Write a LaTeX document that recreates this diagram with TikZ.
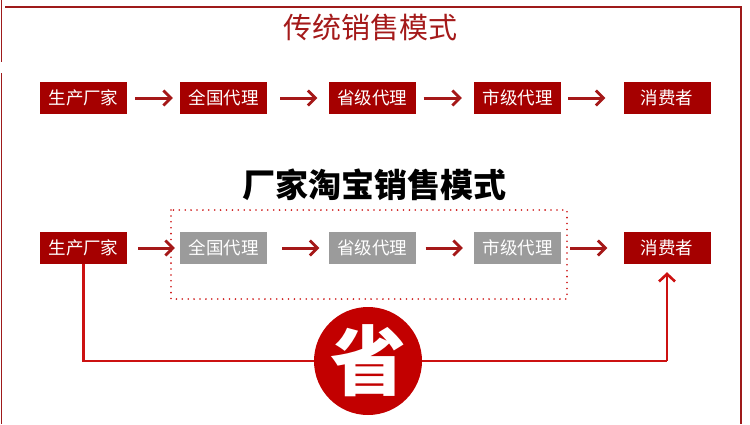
\documentclass[tikz,border=0pt]{standalone}
\usepackage{fontspec}
\setmainfont{Noto Sans CJK SC}
\usetikzlibrary{arrows.meta}
\definecolor{boxred}{HTML}{A50000}
\definecolor{boxgray}{HTML}{9B9B9B}
\definecolor{titlered}{HTML}{A41A1A}
\definecolor{arrred}{HTML}{A51818}
\definecolor{linered}{HTML}{CC1111}
\definecolor{circred}{HTML}{C20000}
\definecolor{framered}{HTML}{9E1A1A}
\tikzset{
  redbox/.style={fill=boxred, text=white, minimum width=87pt, minimum height=32pt, inner sep=0pt, font=\fontsize{17.5}{19}\selectfont},
  graybox/.style={redbox, fill=boxgray},
  flow/.style={draw=arrred, line width=3pt, -{Straight Barb[length=7.5pt,width=15pt,line width=2.8pt]}},
  direct/.style={draw=linered, line width=2.6pt},
  frameline/.style={draw=framered, line width=1.6pt},
}
\begin{document}
\begin{tikzpicture}[x=1pt,y=-1pt]
\useasboundingbox (0,0) rectangle (750,424);
% outer frame
\draw[frameline] (5,7) -- (741,7) -- (741,424);
\draw[frameline] (1.5,0) -- (1.5,62);
\draw[frameline] (1.5,73) -- (1.5,424);
% title 1
\node[text=titlered, font=\fontsize{29}{31}\selectfont] (t1) at (370,27) {传统销售模式};
% row 1
\node[redbox] (a1) at (83.5,98) {生产厂家};
\node[redbox] (a2) at (223.5,98) {全国代理};
\node[redbox] (a3) at (372,98) {省级代理};
\node[redbox] (a4) at (517.5,98) {市级代理};
\node[redbox] (a5) at (667,98) {消费者};
\draw[flow] ([xshift=8pt]a1.east) -- ([xshift=-7pt]a2.west);
\draw[flow] ([xshift=13pt]a2.east) -- ([xshift=-11pt]a3.west);
\draw[flow] ([xshift=8pt]a3.east) -- ([xshift=-12pt]a4.west);
\draw[flow] ([xshift=7pt]a4.east) -- ([xshift=-18pt]a5.west);
% title 2
\node[text=black, font=\bfseries\fontsize{33}{35}\selectfont] (t2) at (374,185) {厂家淘宝销售模式};
% dotted frame
\draw[draw=linered, line width=1.8pt, line cap=round, dash pattern=on 0pt off 5.9pt] (171,210) rectangle (567,299);
% row 2
\node[redbox] (b1) at (83.5,248) {生产厂家};
\node[graybox] (b2) at (223.5,248) {全国代理};
\node[graybox] (b3) at (372,248) {省级代理};
\node[graybox] (b4) at (517.5,248) {市级代理};
\node[redbox] (b5) at (667,248) {消费者};
\draw[flow] ([xshift=11pt]b1.east) -- ([xshift=-5pt]b2.west);
\draw[flow] ([xshift=15pt]b2.east) -- ([xshift=-9pt]b3.west);
\draw[flow] ([xshift=10pt]b3.east) -- ([xshift=-11pt]b4.west);
\draw[flow] ([xshift=9pt]b4.east) -- ([xshift=-16pt]b5.west);
% direct path
\coordinate (c1) at (83.5,361);
\coordinate (c2) at (667,361);
\draw[direct] (b1.south) -- (c1) -- (c2);
\draw[direct, -{Straight Barb[length=7.5pt,width=16pt,line width=2.6pt]}] (c2) -- ([yshift=-8pt]b5.south);
% circle
\node[circle, fill=circred, minimum size=108pt, inner sep=0pt, text=white, font=\bfseries\fontsize{76}{78}\selectfont] (s) at (368,361) {省};
\end{tikzpicture}
\end{document}
